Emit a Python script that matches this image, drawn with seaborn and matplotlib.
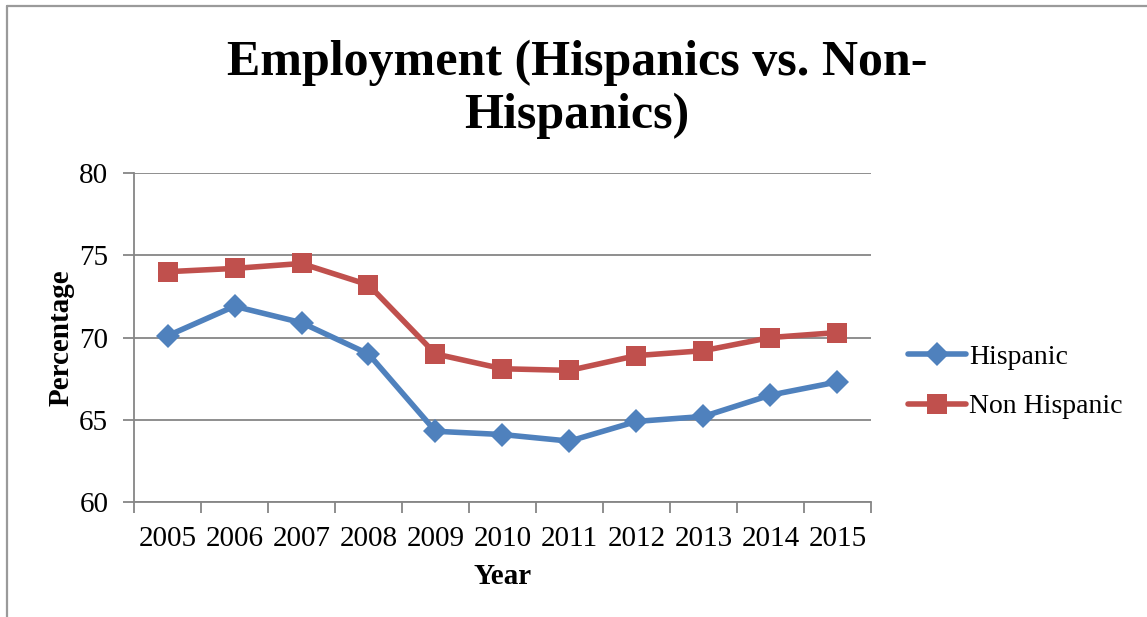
import matplotlib
matplotlib.use("Agg")
import matplotlib.pyplot as plt
from matplotlib.lines import Line2D
import numpy as np
import pandas as pd
import seaborn as sns

years = ["2005", "2006", "2007", "2008", "2009", "2010",
         "2011", "2012", "2013", "2014", "2015"]
hispanic = [70.1, 71.9, 70.9, 69.0, 64.3, 64.1, 63.7, 64.9, 65.2, 66.5, 67.3]
non_hispanic = [74.0, 74.2, 74.5, 73.2, 69.0, 68.1, 68.0, 68.9, 69.2, 70.0, 70.3]
y_ticks = [60, 65, 70, 75, 80]

blue = "#4F81BD"
red = "#C0504D"
grid_gray = "#868686"
fs = 21

sns.set_theme(style="white")
plt.rcParams["font.family"] = ["Liberation Serif", "DejaVu Serif"]
plt.rcParams["text.color"] = "black"
plt.rcParams["axes.labelcolor"] = "black"

pos = np.arange(len(years))
df_h = pd.DataFrame({"pos": pos, "value": hispanic})
df_n = pd.DataFrame({"pos": pos, "value": non_hispanic})

fig = plt.figure(figsize=(11.47, 6.17), dpi=100)
ax = fig.add_axes([134 / 1147, 1 - 502 / 617, 737 / 1147, 329 / 617])

sns.lineplot(data=df_h, x="pos", y="value", ax=ax, color=blue, lw=4.0,
             marker="D", markersize=12, markeredgewidth=0, label="Hispanic")
sns.lineplot(data=df_n, x="pos", y="value", ax=ax, color=red, lw=4.0,
             marker="s", markersize=14.5, markeredgewidth=0, label="Non Hispanic")

ax.set_xlim(-0.5, len(years) - 0.5)
ax.set_ylim(60, 80)

# category labels centred, tick marks on category boundaries
ax.set_xticks(pos)
ax.set_xticklabels(years)
ax.set_xticks(np.arange(-0.5, len(years)), minor=True)
ax.tick_params(axis="x", which="major", length=0, pad=17, labelsize=fs,
               labelcolor="black")
ax.tick_params(axis="x", which="minor", length=8, width=1.3, color=grid_gray,
               direction="out", bottom=True)
ax.set_yticks(y_ticks)
ax.tick_params(axis="y", which="major", length=8, width=1.3, color=grid_gray,
               direction="out", left=True, pad=10.5, labelsize=fs,
               labelcolor="black")

ax.grid(axis="y", color=grid_gray, lw=1.3)
ax.set_axisbelow(True)
for side in ["top", "right"]:
    ax.spines[side].set_visible(False)
for side in ["left", "bottom"]:
    ax.spines[side].set_color(grid_gray)
    ax.spines[side].set_linewidth(1.3)

ax.set_xlabel("Year", fontsize=fs, fontweight="bold")
ax.xaxis.set_label_coords(0.5, -0.185)
ax.set_ylabel("Percentage", fontsize=fs, fontweight="bold")
ax.yaxis.set_label_coords(-0.08, 0.5)

handles, labels = ax.get_legend_handles_labels()
ax.get_legend().remove()
fig.legend(handles, labels, loc="center left",
           bbox_to_anchor=(908 / 1147, 1 - 382 / 617),
           frameon=False, fontsize=20, handlelength=2.1,
           handletextpad=0.1, labelspacing=0.85, borderpad=0,
           borderaxespad=0)

fig.text(0.503, 1 - 89 / 617, "Employment (Hispanics vs. Non-\nHispanics)",
         ha="center", va="center", fontsize=36, fontweight="bold",
         linespacing=1.18)

# chart area border
frame_color = "#9a9a9a"
fig.add_artist(Line2D([7 / 1147, 1.0], [1 - 6 / 617, 1 - 6 / 617],
                      transform=fig.transFigure, color=frame_color, lw=1.6))
fig.add_artist(Line2D([7 / 1147, 7 / 1147], [0.0, 1 - 6 / 617],
                      transform=fig.transFigure, color=frame_color, lw=1.6))

fig.savefig("out.png", dpi=100)
